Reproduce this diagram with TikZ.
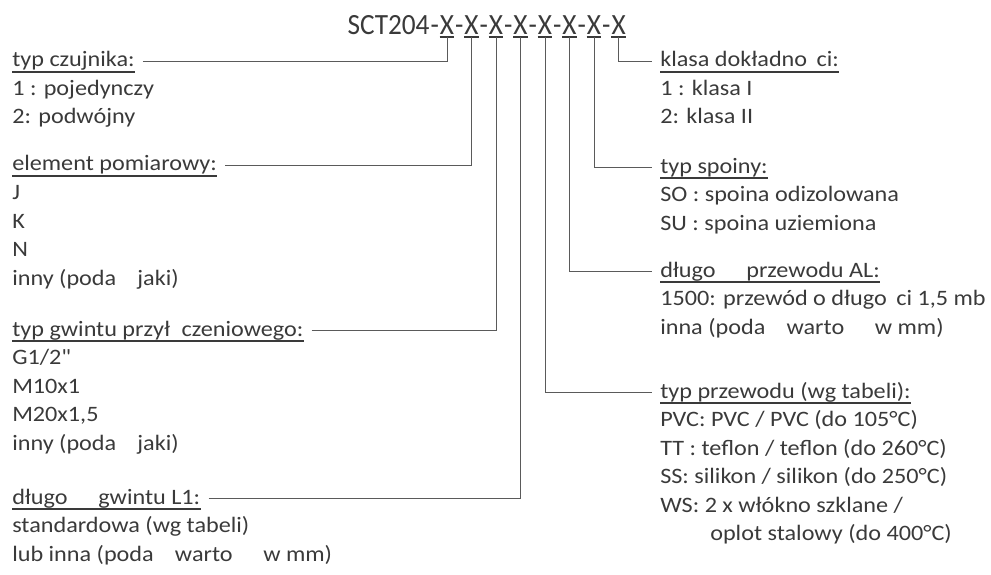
\documentclass[tikz,border=0pt]{standalone}
\usepackage{fontspec}
\setmainfont{Carlito}
\newfontfamily\opisfont{Carlito}[FakeStretch=1.1, Ligatures=TeXOff]
\newfontfamily\tytulfont{Carlito}[FakeStretch=0.93]
\usetikzlibrary{calc}
\definecolor{tekst}{HTML}{3A3A3A}
\definecolor{linia}{HTML}{5A5A5A}

\begin{document}
\begin{tikzpicture}[x=0.75pt, y=-0.75pt,
    tytul/.style={inner sep=0pt, font=\tytulfont\fontsize{22}{26}\selectfont, text=tekst},
    opis/.style={inner sep=0pt, anchor=base west, font=\opisfont\fontsize{16.5}{20}\selectfont, text=tekst},
    podkr/.style={draw=tekst, line width=1.2pt},
    laczn/.style={draw=linia, line width=0.75pt}]
  \useasboundingbox (0,0) rectangle (991,574);
  % kod zamowieniowy
  \node[tytul, anchor=base] (x1) at (447,35) {X};
  \node[tytul, anchor=base east] (m0) at ([xshift=-0.35pt]x1.base west) {-};
  \node[tytul, anchor=base east] (kod) at ([xshift=-0.35pt]m0.base west) {SCT204};
  \foreach \i [evaluate=\i as \j using int(\i-1)] in {2,...,8} {
    \node[tytul, anchor=base west] (m\j) at ([xshift=0.35pt]x\j.base east) {-};
    \node[tytul, anchor=base west] (x\i) at ([xshift=0.35pt]m\j.base east) {X};
  }
  \foreach \i in {1,...,8}
    \draw[podkr, line width=1.5pt] ([yshift=-1.8pt]x\i.base west) -- ([yshift=-1.8pt]x\i.base east);
  % naglowki po lewej
  \node[opis] (czujnik) at (12,67) {typ czujnika:};
  \node[opis] (element) at (12,171) {element pomiarowy:};
  \node[opis] (gwint) at (12,336) {typ gwintu przył\phantom{ą}czeniowego:};
  \node[opis] (dlgwint) at (12,504) {długo\phantom{ść}\ \ gwintu L1:};
  % naglowki po prawej
  \node[opis] (klasa) at (660,67) {klasa dokładno\phantom{ś}ci:};
  \node[opis] (spoina) at (660,173) {typ spoiny:};
  \node[opis] (dlprzew) at (660,277) {długo\phantom{ść}\ \ przewodu AL:};
  \node[opis] (przewod) at (660,398) {typ przewodu (wg tabeli):};
  \foreach \n in {czujnik,element,gwint,dlgwint,klasa,spoina,dlprzew,przewod}
    \draw[podkr] ([yshift=-3.6pt]\n.base west) -- ([yshift=-3.6pt]\n.base east);
  % opcje
  \foreach \t [count=\k] in {1 : pojedynczy, 2: podwójny}
    \node[opis] (czujnik-\k) at ($(czujnik.base west)+(0,28.5*\k)$) {\t};
  \foreach \t [count=\k] in {J, K, N, inny (poda\phantom{ć}\ \ jaki)}
    \node[opis] (element-\k) at ($(element.base west)+(0,28.5*\k)$) {\t};
  \foreach \t [count=\k] in {G1/2", M10x1, {M20x1,5}, inny (poda\phantom{ć}\ \ jaki)}
    \node[opis] (gwint-\k) at ($(gwint.base west)+(0,28.5*\k)$) {\t};
  \foreach \t [count=\k] in {standardowa (wg tabeli), lub inna (poda\phantom{ć}\ \ warto\phantom{ść}\ \ w mm)}
    \node[opis] (dlgwint-\k) at ($(dlgwint.base west)+(0,28.5*\k)$) {\t};
  \foreach \t [count=\k] in {1 : klasa I, 2: klasa II}
    \node[opis] (klasa-\k) at ($(klasa.base west)+(0,28.5*\k)$) {\t};
  \foreach \t [count=\k] in {SO : spoina odizolowana, SU : spoina uziemiona}
    \node[opis] (spoina-\k) at ($(spoina.base west)+(0,28.5*\k)$) {\t};
  \foreach \t [count=\k] in {{1500: przewód o długo\phantom{ś}ci 1,5 mb}, inna (poda\phantom{ć}\ \ warto\phantom{ść}\ \ w mm)}
    \node[opis] (dlprzew-\k) at ($(dlprzew.base west)+(0,28.5*\k)$) {\t};
  \foreach \t [count=\k] in {PVC: PVC / PVC (do 105°C), TT : teflon / teflon (do 260°C),
      SS: silikon / silikon (do 250°C), WS: 2 x włókno szklane /}
    \node[opis] (przewod-\k) at ($(przewod.base west)+(0,28.5*\k)$) {\t};
  \node[opis] (przewod-5) at ($(przewod-4.base west)+(50,28.5)$) {oplot stalowy (do 400°C)};
  % polaczenia
  \draw[laczn] ([xshift=6pt,yshift=4.1pt]czujnik.base east) -| ([yshift=-1.8pt]x1.base);
  \draw[laczn] ([xshift=6pt,yshift=4.1pt]element.base east) -| ([yshift=-1.8pt]x2.base);
  \draw[laczn] ([xshift=6pt,yshift=4.1pt]gwint.base east) -| ([yshift=-1.8pt]x3.base);
  \draw[laczn] ([xshift=6pt,yshift=4.1pt]dlgwint.base east) -| ([yshift=-1.8pt]x4.base);
  \draw[laczn] ([yshift=-1.8pt]x5.base) |- ([xshift=-6pt,yshift=4.1pt]przewod.base west);
  \draw[laczn] ([yshift=-1.8pt]x6.base) |- ([xshift=-6pt,yshift=4.1pt]dlprzew.base west);
  \draw[laczn] ([yshift=-1.8pt]x7.base) |- ([xshift=-6pt,yshift=4.1pt]spoina.base west);
  \draw[laczn] ([yshift=-1.8pt]x8.base) |- ([xshift=-6pt,yshift=4.1pt]klasa.base west);
\end{tikzpicture}
\end{document}
